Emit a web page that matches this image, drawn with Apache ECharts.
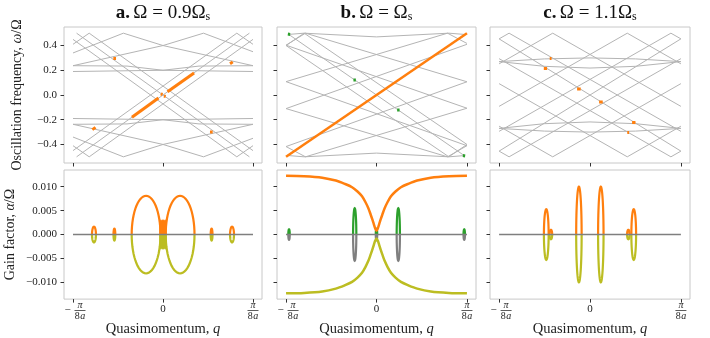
<!DOCTYPE html>
<html>
<head>
<meta charset="utf-8">
<script src="https://cdn.jsdelivr.net/npm/echarts@6/dist/echarts.min.js"></script>
<style>
html, body { margin: 0; padding: 0; background: #fff; }
#chart { width: 710px; height: 338px; }
</style>
</head>
<body>
<div id="chart"></div>
<script>
// tick values
const qTicks = [-1, 0, 1];
const omegaTicks = [-0.4, -0.2, 0, 0.2, 0.4];
const gainTicks = [-0.01, -0.005, 0, 0.005, 0.01];

// band lines (q, omega)
const bandsA = [
  [[-0.96, -0.5], [0.96, 0.5]],
  [[-0.96, 0.5], [0.96, -0.5]],
  [[-1, 0.45], [0.82, -0.5], [1, -0.41]],
  [[-1, -0.45], [0.82, 0.5], [1, 0.41]],
  [[1, 0.45], [-0.82, -0.5], [-1, -0.41]],
  [[1, -0.45], [-0.82, 0.5], [-1, 0.41]],
  [[-1, 0.34], [-0.44, 0.5], [0, 0.4], [0.45, 0.5], [1, 0.35]],
  [[-1, -0.34], [-0.44, -0.5], [0, -0.4], [0.45, -0.5], [1, -0.35]],
  [[-1, 0.237], [0, 0.4], [1, 0.237]],
  [[-1, -0.237], [0, -0.4], [1, -0.237]],
  [[-1, 0.237], [-0.4, 0.234], [0, 0.2], [1, 0.19]],
  [[1, 0.237], [0.4, 0.234], [0, 0.2], [-1, 0.19]],
  [[-1, -0.237], [-0.4, -0.234], [0, -0.2], [1, -0.19]],
  [[1, -0.237], [0.4, -0.234], [0, -0.2], [-1, -0.19]]
];
const bandsB = [
  [[-0.97, 0.49], [0.97, -0.49]],
  [[-1, 0.4], [-0.8, 0.5], [1, -0.4], [0.8, -0.5], [-1, 0.4]],
  [[-0.97, 0.49], [-0.8, 0.5], [0, 0.47], [0.8, 0.5], [0.97, 0.49]],
  [[-0.97, -0.49], [-0.8, -0.5], [0, -0.47], [0.8, -0.5], [0.97, -0.49]],
  [[-1, 0.108], [1, -0.41]],
  [[-1, -0.11], [1, 0.41]],
  [[-1, 0.403], [1, -0.107]],
  [[-1, -0.417], [1, 0.107]],
  [[-1, 0.108], [0.785, 0.5], [1, 0.417]],
  [[-1, -0.11], [0.785, -0.5], [1, -0.41]],
  [[1, 0.107], [-0.785, 0.5], [-1, 0.403]],
  [[1, -0.107], [-0.785, -0.5], [-1, -0.417]]
];
const bandsC = [
  [[-1, 0.454], [-0.89, 0.5], [1, -0.294]],
  [[-1, 0.252], [-0.41, 0.5], [1, -0.092]],
  [[-1, -0.092], [0.41, 0.5], [1, 0.252]],
  [[-1, -0.294], [0.89, 0.5], [1, 0.454]],
  [[-1, -0.454], [-0.89, -0.5], [1, 0.294]],
  [[-1, -0.252], [-0.41, -0.5], [1, 0.092]],
  [[-1, 0.092], [0.41, -0.5], [1, -0.252]],
  [[-1, 0.294], [0.89, -0.5], [1, -0.454]],
  [[-1, 0.454], [1, -0.454]],
  [[-1, -0.454], [1, 0.454]],
  [[-1, 0.27], [-0.5, 0.292], [0, 0.3], [0.5, 0.292], [1, 0.27]],
  [[-1, 0.27], [-0.5, 0.232], [0, 0.218], [0.5, 0.232], [1, 0.27]],
  [[-1, -0.27], [-0.5, -0.292], [0, -0.3], [0.5, -0.292], [1, -0.27]],
  [[-1, -0.27], [-0.5, -0.232], [0, -0.218], [0.5, -0.232], [1, -0.27]]
];

// unstable parts of the bands (top panels)
const hotA = [
  [[-0.345, -0.18], [-0.05, -0.025]], [[0.05, 0.027], [0.345, 0.178]],
  [[-0.785, -0.28], [-0.75, -0.262]], [[-0.552, 0.296], [-0.522, 0.296]],
  [[0.522, -0.3], [0.552, -0.3]], [[0.745, 0.253], [0.775, 0.268]],
  [[-0.025, 0.01], [-0.005, 0.004]], [[0.01, -0.008], [0.03, -0.012]]
];
const hotB = [[[-1, -0.5], [1, 0.5]]];
const coolB = [
  [[-0.98, 0.493], [-0.955, 0.49]], [[-0.255, 0.121], [-0.228, 0.121]],
  [[0.228, -0.121], [0.255, -0.121]], [[0.955, -0.49], [0.98, -0.493]]
];
const hotC = [
  [[-0.443, 0.296], [-0.423, 0.296]], [[-0.508, 0.215], [-0.472, 0.215]],
  [[-0.142, 0.048], [-0.102, 0.048]], [[0.1, -0.056], [0.14, -0.056]],
  [[0.463, -0.223], [0.5, -0.223]], [[0.41, -0.304], [0.43, -0.304]]
];

// gain loops: [centre q, half width, peak gain]
const loopsA = [
  [-0.767, 0.022, 0.00165], [-0.54, 0.01, 0.00125], [-0.188, 0.16, 0.0081],
  [-0.024, 0.006, 0.0028], [-0.008, 0.006, 0.0028], [0.008, 0.006, 0.0028], [0.024, 0.006, 0.0028],
  [0.19, 0.16, 0.0081], [0.54, 0.01, 0.00125], [0.767, 0.022, 0.00165]
];
const loopsB = [
  [-0.967, 0.008, 0.0011], [-0.241, 0.018, 0.0055], [0, 0.008, 0.0012],
  [0.241, 0.018, 0.0055], [0.97, 0.008, 0.0011]
];
const loopsC = [
  [-0.481, 0.026, 0.0053], [-0.43, 0.014, 0.001], [-0.122, 0.03, 0.01],
  [0.119, 0.03, 0.01], [0.422, 0.014, 0.001], [0.481, 0.026, 0.0053]
];

// panel b continuous gain branch
const gainBq = [-1, -0.8, -0.6, -0.45, -0.35, -0.27, -0.21, -0.16, -0.12, -0.09, -0.065, -0.045, -0.03, -0.015, 0,
  0.015, 0.03, 0.045, 0.065, 0.09, 0.12, 0.16, 0.21, 0.27, 0.35, 0.45, 0.6, 0.8, 1];
const gainBup = [0.0123, 0.0122, 0.0119, 0.0113, 0.0106, 0.0099, 0.009, 0.008, 0.0067, 0.0055, 0.0042, 0.0031, 0.0022, 0.0013, 0.0008,
  0.0013, 0.0022, 0.0031, 0.0042, 0.0055, 0.0067, 0.008, 0.009, 0.0099, 0.0106, 0.0113, 0.0119, 0.0122, 0.0123];

const ORANGE = '#ff7f0e', OLIVE = '#bcbd22', GREEN = '#2ca02c', GREY = '#7f7f7f', BAND = '#b4b4b4';
const SERIF = '"Liberation Serif", "DejaVu Serif", serif';

const panelLeft = [64, 277, 490];
const panelWidth = [198, 199, 200];

const fracRich = {
  z: { fontFamily: SERIF, fontSize: 11, color: '#222', padding: [2, 0, 0, 0] },
  sp: { width: 14, fontSize: 1 },
  m: { width: 14, align: 'center', fontFamily: SERIF, fontSize: 11, color: '#222', lineHeight: 3 },
  n: { width: 11, align: 'center', fontFamily: SERIF, fontSize: 10, fontStyle: 'italic', lineHeight: 7, color: '#222' },
  b: { width: 11, height: 0.8, lineHeight: 3, backgroundColor: '#333', fontSize: 1 },
  d: { width: 5.5, align: 'right', fontFamily: SERIF, fontSize: 10, lineHeight: 8, color: '#222' },
  di: { width: 5.5, align: 'left', fontFamily: SERIF, fontSize: 10, fontStyle: 'italic', lineHeight: 8, color: '#222' }
};
function qLabel(v) {
  if (v === 0) return '{z|0}';
  if (v < 0) return '{sp| }{n|π}\n{m|−}{b| }\n{sp| }{d|8}{di|a}';
  return '{n|π}\n{b| }\n{d|8}{di|a}';
}

const chart = echarts.init(document.getElementById('chart'));

const grids = [];
const xAxes = [];
const yAxes = [];
for (let row = 0; row < 2; row++) {
  for (let i = 0; i < 3; i++) {
    const idx = row * 3 + i;
    grids.push({
      left: panelLeft[i], width: panelWidth[i],
      top: row === 0 ? 27 : 170, height: row === 0 ? 136 : 137,
      show: true, borderColor: '#c8c8c8', borderWidth: 1, backgroundColor: '#fff'
    });
    xAxes.push({
      gridIndex: idx, type: 'value', min: -1.1, max: 1.1,
      axisLine: { show: false, onZero: false },
      splitLine: { show: false },
      axisTick: { show: true, customValues: qTicks, length: 3.5, lineStyle: { color: '#333', width: 1 } },
      axisLabel: {
        show: row === 1, customValues: qTicks, margin: 3, color: '#222',
        formatter: qLabel, rich: fracRich
      },
      name: row === 1 ? '{r|Quasimomentum, }{i|q}' : '',
      nameLocation: 'middle', nameGap: 21,
      nameTextStyle: {
        rich: {
          r: { fontFamily: SERIF, fontSize: 14.5, color: '#222' },
          i: { fontFamily: SERIF, fontSize: 14.5, fontStyle: 'italic', color: '#222' }
        }
      }
    });
    const ticks = row === 0 ? omegaTicks : gainTicks;
    yAxes.push({
      gridIndex: idx, type: 'value',
      min: row === 0 ? -0.55 : -0.0135, max: row === 0 ? 0.55 : 0.0135,
      axisLine: { show: false, onZero: false },
      splitLine: { show: false },
      axisTick: { show: true, customValues: ticks, length: 3.5, lineStyle: { color: '#333', width: 1 } },
      axisLabel: {
        show: i === 0, customValues: ticks, margin: 7, color: '#222',
        fontFamily: SERIF, fontSize: 11,
        formatter: v => (v < 0 ? '−' : '') + Math.abs(v).toFixed(row === 0 ? 1 : 3)
      },
      name: i !== 0 ? '' : (row === 0 ? '{r|Oscillation frequency, }{i|ω}{r|/Ω}' : '{r|Gain factor, }{i|α}{r|/Ω}'),
      nameLocation: 'middle', nameRotate: 90, nameGap: row === 0 ? 40 : 47,
      nameTextStyle: {
        rich: {
          r: { fontFamily: SERIF, fontSize: 14, color: '#222' },
          i: { fontFamily: SERIF, fontSize: 14, fontStyle: 'italic', color: '#222' }
        }
      }
    });
  }
}

function bandSeries(idx, lines) {
  return {
    type: 'lines', coordinateSystem: 'cartesian2d', xAxisIndex: idx, yAxisIndex: idx,
    polyline: true, silent: true,
    lineStyle: { color: BAND, width: 1, opacity: 1 },
    data: lines.map(c => ({ coords: c }))
  };
}
function hotSeries(idx, segs, color, width) {
  return {
    type: 'lines', coordinateSystem: 'cartesian2d', xAxisIndex: idx, yAxisIndex: idx,
    polyline: true, silent: true, z: 3,
    lineStyle: { color: color, width: width, opacity: 1, cap: 'butt' },
    data: segs.map(c => ({ coords: c }))
  };
}
function baseSeries(idx) {
  return {
    type: 'line', xAxisIndex: idx, yAxisIndex: idx, showSymbol: false, silent: true,
    lineStyle: { color: GREY, width: 1.6 }, data: [[-1, 0], [1, 0]]
  };
}
function loopSeries(idx, loops, upper, lower) {
  return {
    type: 'custom', xAxisIndex: idx, yAxisIndex: idx, silent: true, z: 3,
    data: loops,
    renderItem: (params, api) => {
      const c = api.value(0), hw = api.value(1), h = api.value(2);
      const top = [], bot = [];
      for (let k = 0; k <= 30; k++) {
        const t = Math.PI * k / 30;
        const x = c - hw * Math.cos(t);
        top.push(api.coord([x, h * Math.sin(t)]));
        bot.push(api.coord([x, -h * Math.sin(t)]));
      }
      return {
        type: 'group',
        children: [
          { type: 'polyline', shape: { points: bot }, style: { stroke: lower, lineWidth: 2.2, fill: 'none' } },
          { type: 'polyline', shape: { points: top }, style: { stroke: upper, lineWidth: 2.2, fill: 'none' } }
        ]
      };
    }
  };
}

const series = [
  bandSeries(0, bandsA), hotSeries(0, hotA, ORANGE, 3),
  bandSeries(1, bandsB), hotSeries(1, hotB, ORANGE, 2.5), hotSeries(1, coolB, GREEN, 3),
  bandSeries(2, bandsC), hotSeries(2, hotC, ORANGE, 3),
  baseSeries(3), loopSeries(3, loopsA, ORANGE, OLIVE),
  baseSeries(4), loopSeries(4, loopsB, GREEN, GREY),
  {
    type: 'line', xAxisIndex: 4, yAxisIndex: 4, showSymbol: false, silent: true, smooth: 0.3, z: 4,
    lineStyle: { color: ORANGE, width: 2.5 }, data: gainBq.map((q, k) => [q, gainBup[k]])
  },
  {
    type: 'line', xAxisIndex: 4, yAxisIndex: 4, showSymbol: false, silent: true, smooth: 0.3, z: 4,
    lineStyle: { color: OLIVE, width: 2.5 }, data: gainBq.map((q, k) => [q, -gainBup[k]])
  },
  baseSeries(5), loopSeries(5, loopsC, ORANGE, OLIVE)
];

const titleRich = {
  b: { fontFamily: SERIF, fontSize: 19, fontWeight: 'bold', fill: '#111', lineHeight: 22 },
  t: { fontFamily: SERIF, fontSize: 19, fill: '#111', lineHeight: 22 },
  s: { fontFamily: SERIF, fontSize: 12, fill: '#111', padding: [8, 0, 0, 0] }
};
const titles = ['a', 'b', 'c'];
const titleText = ['Ω = 0.9Ω', 'Ω = Ω', 'Ω = 1.1Ω'];
const graphics = titles.map((t, i) => ({
  type: 'text', x: panelLeft[i] + panelWidth[i] / 2, y: 13,
  style: {
    text: '{b|' + t + '.} {t|' + titleText[i] + '}{s|s}',
    align: 'center', verticalAlign: 'middle', rich: titleRich
  }
}));

chart.setOption({
  animation: false,
  backgroundColor: '#fff',
  grid: grids,
  xAxis: xAxes,
  yAxis: yAxes,
  series: series,
  graphic: graphics
});
</script>
</body>
</html>
